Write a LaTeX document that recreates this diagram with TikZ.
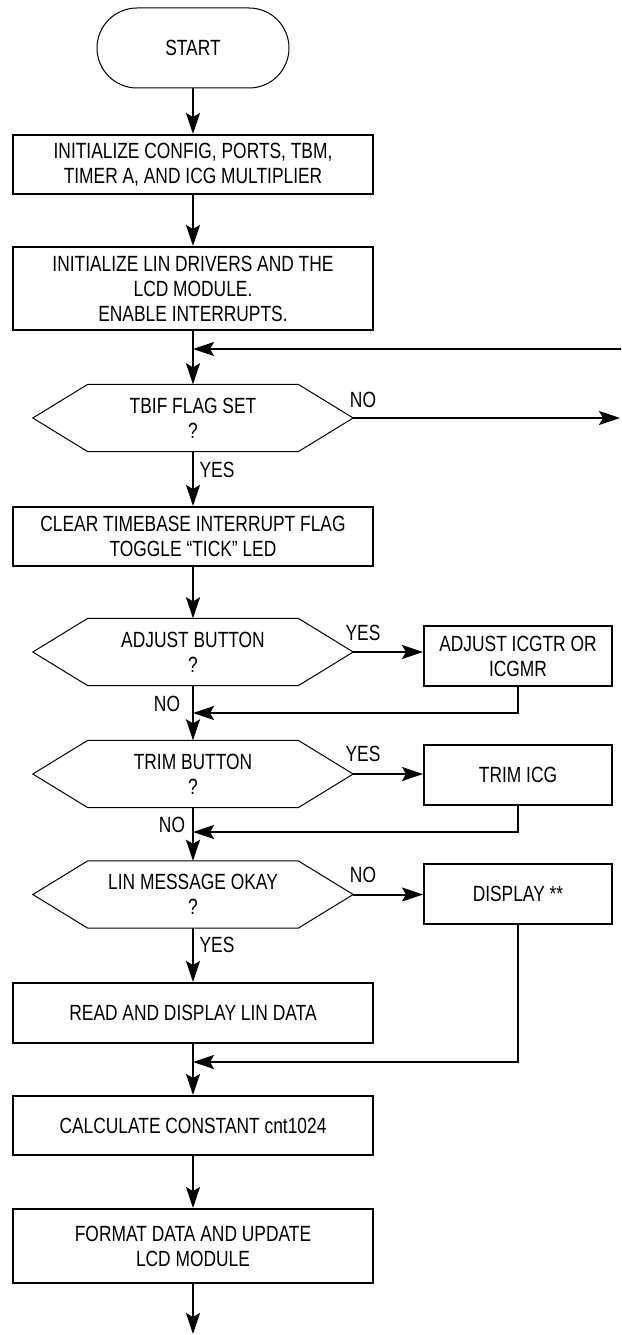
\documentclass[tikz,border=0pt]{standalone}
\usepackage{fontspec}
\setmainfont{Liberation Sans}[FakeStretch=0.79]
\usetikzlibrary{arrows.meta,calc}

\tikzset{
  every node/.style={font=\fontsize{22}{25}\selectfont, inner sep=0pt, align=center},
  terminal/.style={draw, line width=1pt, rounded corners=40pt,
    minimum width=192pt, minimum height=80pt},
  procbox/.style={draw, line width=2pt, minimum width=360pt},
  sidebox/.style={draw, line width=2pt, minimum width=188pt, minimum height=60pt},
  decision/.style={minimum width=320pt, minimum height=67pt},
  hexline/.style={line width=1pt, line join=miter},
  flow/.style={line width=2pt, -{Stealth[length=21pt,width=14pt,inset=4pt]}},
  lbl/.style={}
}

\begin{document}
\begin{tikzpicture}[x=1pt,y=-1pt]
\useasboundingbox (0,0) rectangle (621,1335);

% main column
\node[terminal] (start) at (193,48) {START};
\node[procbox, minimum height=59pt] (init1) at (193,164.5)
  {INITIALIZE CONFIG, PORTS, TBM,\\TIMER A, AND ICG MULTIPLIER};
\node[procbox, minimum height=83pt] (init2) at (193,288.5)
  {INITIALIZE LIN DRIVERS AND THE\\LCD MODULE.\\ENABLE INTERRUPTS.};
\node[decision] (tbif) at (193,418) {TBIF FLAG SET\\?};
\node[procbox, minimum height=59pt] (clear) at (193,536.5)
  {CLEAR TIMEBASE INTERRUPT FLAG\\TOGGLE “TICK” LED};
\node[decision] (adjq) at (193,652) {ADJUST BUTTON\\?};
\node[decision] (trimq) at (193,774) {TRIM BUTTON\\?};
\node[decision] (linq) at (193,894.5) {LIN MESSAGE OKAY\\?};
\node[procbox, minimum height=60pt] (read) at (193,1013) {READ AND DISPLAY LIN DATA};
\node[procbox, minimum height=59pt] (calc) at (193,1125.5) {CALCULATE CONSTANT cnt1024};
\node[procbox, minimum height=74pt] (fmt) at (193,1246)
  {FORMAT DATA AND UPDATE\\LCD MODULE};

% side column
\node[sidebox] (adj) at (518,656) {ADJUST ICGTR OR\\ICGMR};
\node[sidebox] (trim) at (518,775) {TRIM ICG};
\node[sidebox] (disp) at (518,894) {DISPLAY **};

% hexagonal decision outlines
\foreach \n in {tbif,adjq,trimq,linq}
  \draw[hexline] ($(\n.north west)+(55,0)$) -- ($(\n.north east)+(-55,0)$)
    -- (\n.east) -- ($(\n.south east)+(-55,0)$) -- ($(\n.south west)+(55,0)$)
    -- (\n.west) -- cycle;

% free ends and junctions
\coordinate (loopin) at (621,349);
\coordinate (noout) at (620,418);
\coordinate (j1) at (193,713);
\coordinate (j2) at (193,832);
\coordinate (j3) at (193,1062);
\coordinate (finish) at (193,1334);

% connectors
\draw[flow] (start) -- (init1);
\draw[flow] (init1) -- (init2);
\draw[flow] (init2) -- (tbif.north);
\draw[flow] (loopin) -- (loopin -| tbif.north);
\draw[flow] (tbif.east) -- (noout);
\draw[flow] (tbif.south) -- (clear);
\draw[flow] (clear) -- (adjq.north);
\draw[flow] (adjq.east) -- (adjq.east -| adj.west);
\draw[flow] (adj.south) |- (j1);
\draw[flow] (adjq.south) -- (trimq.north);
\draw[flow] (trimq.east) -- (trimq.east -| trim.west);
\draw[flow] (trim.south) |- (j2);
\draw[flow] (trimq.south) -- (linq.north);
\draw[flow] (linq.east) -- (linq.east -| disp.west);
\draw[flow] (disp.south) |- (j3);
\draw[flow] (linq.south) -- (read);
\draw[flow] (read) -- (calc);
\draw[flow] (calc) -- (fmt);
\draw[flow] (fmt) -- (finish);

% branch labels
\node[lbl] (l1) at (363,400) {NO};
\node[lbl] (l2) at (217,470) {YES};
\node[lbl] (l3) at (363,633) {YES};
\node[lbl] (l4) at (167,704) {NO};
\node[lbl] (l5) at (363,754) {YES};
\node[lbl] (l6) at (172,825) {NO};
\node[lbl] (l7) at (363,875) {NO};
\node[lbl] (l8) at (217,945) {YES};
\end{tikzpicture}
\end{document}
